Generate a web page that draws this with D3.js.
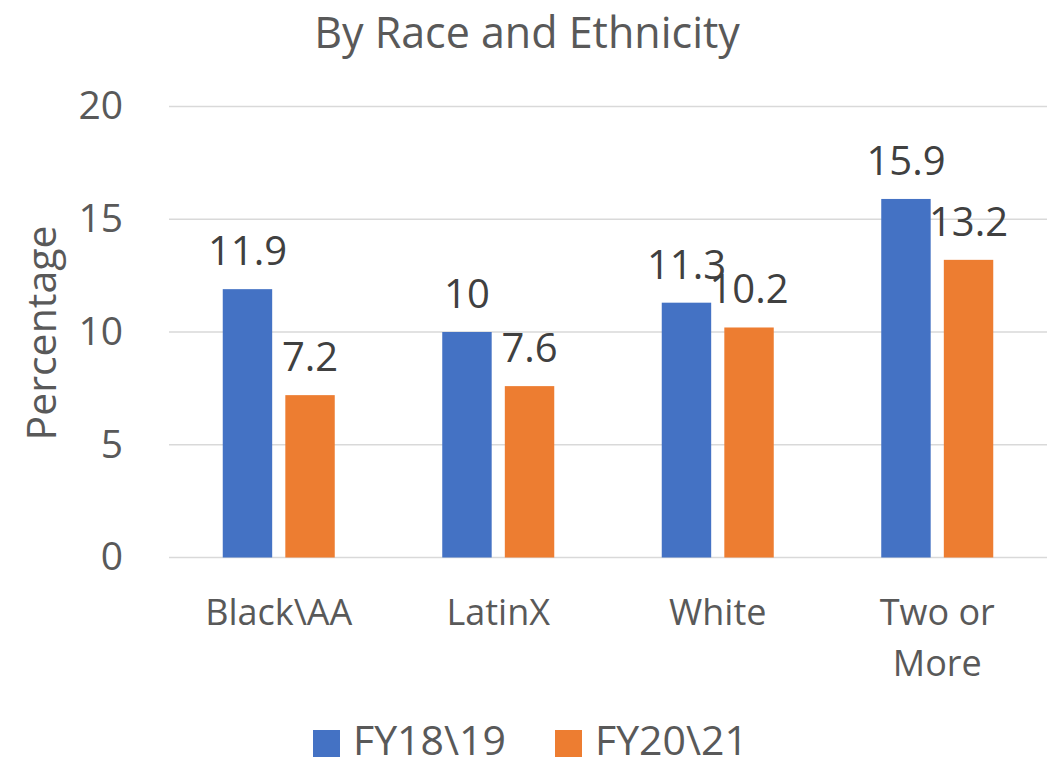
<!DOCTYPE html>
<html>
<head>
<meta charset="utf-8">
<script src="https://cdn.jsdelivr.net/npm/d3@7"></script>
<style>
  body { margin: 0; background: #fff; }
  text { font-family: "Open Sans", "Noto Sans", sans-serif; }
</style>
</head>
<body>
<svg id="chart" width="1053" height="764"></svg>
<script>
// chart data
var categories = ["Black\\AA", "LatinX", "White", "Two or More"];
var seriesNames = ["FY18\\19", "FY20\\21"];
var fy1819 = [11.9, 10, 11.3, 15.9];
var fy2021 = [7.2, 7.6, 10.2, 13.2];
var yTicks = [0, 5, 10, 15, 20];
var colors = ["#4472C4", "#ED7D31"];

var svg = d3.select("#chart");

var plotLeft = 169, plotRight = 1047, plotTop = 106.5, plotBottom = 557.5;

var x0 = d3.scaleBand().domain(categories).range([plotLeft, plotRight]).padding(0);
var x1 = d3.scaleBand().domain(seriesNames)
    .range([53.75, x0.bandwidth() - 53.75])
    .paddingInner(0.21).paddingOuter(0);
var y = d3.scaleLinear().domain([0, 20]).range([plotBottom, plotTop]);

// gridlines
svg.append("g")
  .selectAll("line")
  .data(yTicks)
  .enter().append("line")
  .attr("x1", plotLeft).attr("x2", plotRight)
  .attr("y1", function(d) { return y(d); })
  .attr("y2", function(d) { return y(d); })
  .attr("stroke", "#D9D9D9")
  .attr("stroke-width", 1.5);

// y axis tick labels
var yAxis = svg.append("g")
  .attr("transform", "translate(" + plotLeft + ",0)")
  .call(d3.axisLeft(y).tickValues(yTicks).tickSize(0).tickPadding(46));
yAxis.select(".domain").remove();
yAxis.selectAll("text")
  .attr("fill", "#595959")
  .style("font-size", "39px");

// bars
var table = categories.map(function(c, i) {
  return { cat: c, vals: [fy1819[i], fy2021[i]] };
});

var groups = svg.selectAll(".grp")
  .data(table)
  .enter().append("g")
  .attr("class", "grp")
  .attr("transform", function(d) { return "translate(" + x0(d.cat) + ",0)"; });

groups.selectAll("rect")
  .data(function(d) { return d.vals.map(function(v, j) { return { s: seriesNames[j], v: v, j: j }; }); })
  .enter().append("rect")
  .attr("x", function(d) { return x1(d.s); })
  .attr("y", function(d) { return y(d.v); })
  .attr("width", x1.bandwidth())
  .attr("height", function(d) { return plotBottom - y(d.v); })
  .attr("fill", function(d) { return colors[d.j]; });

// data labels
groups.selectAll(".lbl")
  .data(function(d) { return d.vals.map(function(v, j) { return { s: seriesNames[j], v: v }; }); })
  .enter().append("text")
  .attr("class", "lbl")
  .attr("x", function(d) { return x1(d.s) + x1.bandwidth() / 2; })
  .attr("y", function(d) { return y(d.v) - 24; })
  .attr("text-anchor", "middle")
  .attr("fill", "#404040")
  .style("font-size", "40px")
  .text(function(d) { return d.v; });

// category labels (wrap "Two or More")
var xAxis = svg.append("g");
categories.forEach(function(c) {
  var lines = c === "Two or More" ? ["Two or", "More"] : [c];
  var t = xAxis.append("text")
    .attr("x", x0(c) + x0.bandwidth() / 2)
    .attr("y", 625)
    .attr("text-anchor", "middle")
    .attr("fill", "#595959")
    .style("font-size", "36px");
  lines.forEach(function(l, k) {
    t.append("tspan")
      .attr("x", x0(c) + x0.bandwidth() / 2)
      .attr("dy", k === 0 ? 0 : 51)
      .text(l);
  });
});

// title
svg.append("text")
  .attr("x", 527).attr("y", 48)
  .attr("text-anchor", "middle")
  .attr("fill", "#595959")
  .style("font-size", "43px")
  .text("By Race and Ethnicity");

// y axis title
svg.append("text")
  .attr("transform", "translate(56,333) rotate(-90)")
  .attr("text-anchor", "middle")
  .attr("fill", "#595959")
  .style("font-size", "41px")
  .text("Percentage");

// legend
var legendX = [313, 555];
var legend = svg.selectAll(".leg")
  .data(seriesNames)
  .enter().append("g")
  .attr("class", "leg")
  .attr("transform", function(d, i) { return "translate(" + legendX[i] + ",730)"; });
legend.append("rect")
  .attr("width", 27).attr("height", 27)
  .attr("fill", function(d, i) { return colors[i]; });
legend.append("text")
  .attr("x", 40).attr("y", 25)
  .attr("fill", "#595959")
  .style("font-size", "41px")
  .text(function(d) { return d; });
</script>
</body>
</html>
